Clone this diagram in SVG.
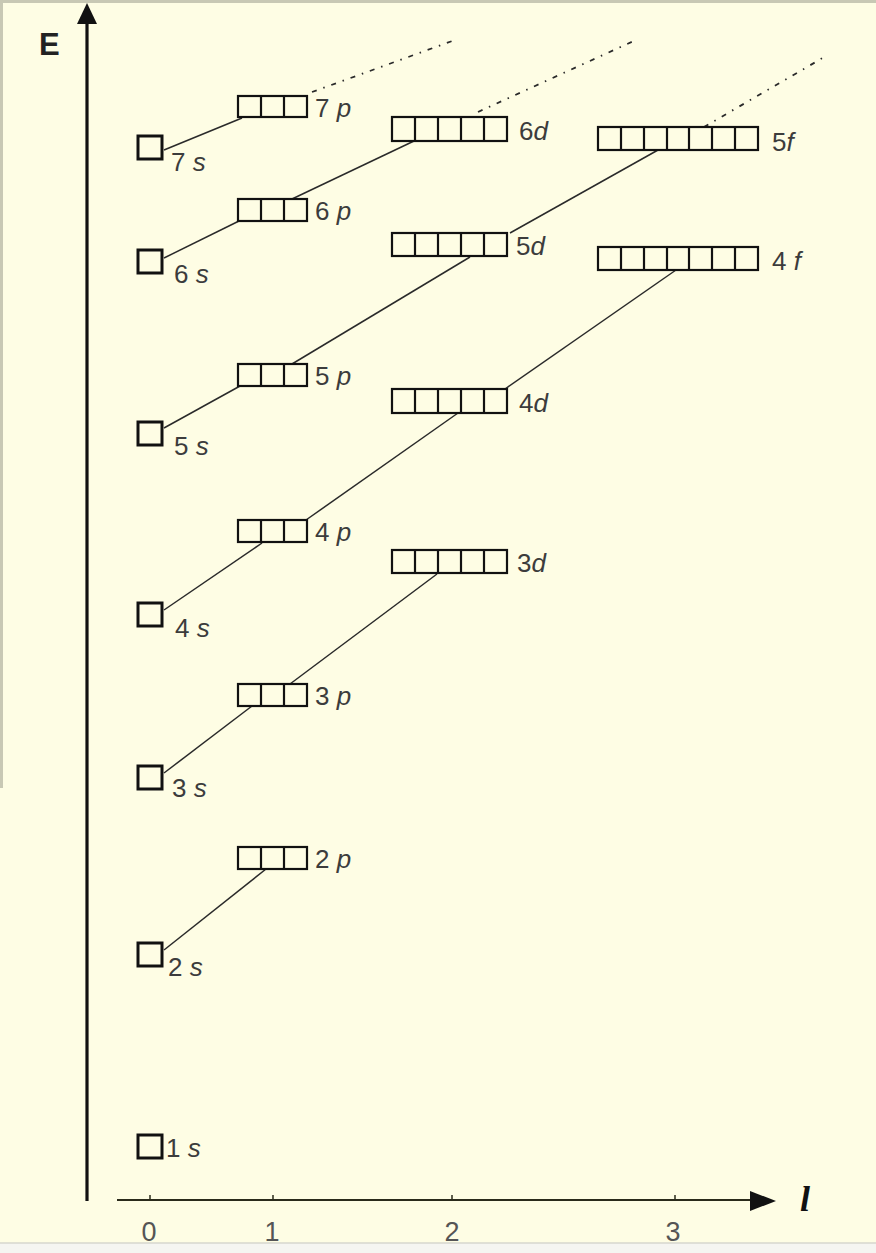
<svg xmlns="http://www.w3.org/2000/svg" width="876" height="1253" viewBox="0 0 876 1253">
<style>
.bg{fill:#FEFDE4}
.box{fill:#FEFDE4;stroke:#111;stroke-width:2.2}
.sbox{fill:#FEFDE4;stroke:#111;stroke-width:3}
.div{stroke:#111;stroke-width:2.2}
.ln{stroke:#2a2a2a;stroke-width:1.5;fill:none}
.dot{stroke:#2a2a2a;stroke-width:1.8;fill:none;stroke-dasharray:5 7 1.5 7}
.lbl{font-family:"Liberation Sans",Arial,sans-serif;font-size:26px;fill:#3c3c3c}
.it{font-style:italic}
.tick{font-family:"Liberation Sans",Arial,sans-serif;font-size:27px;fill:#555;text-anchor:middle}
.axis{stroke:#111;fill:none}
</style>
<rect class="bg" x="0" y="0" width="876" height="1253"/>
<rect x="0" y="0" width="876" height="3" fill="#C8C8B4"/>
<rect x="0" y="0" width="3" height="788" fill="#C8C8B4"/>
<rect x="0" y="1243" width="876" height="10" fill="#F5F5F1"/>
<line x1="0" y1="1243" x2="876" y2="1243" stroke="#D6D6CE" stroke-width="1.5"/>

<g id="axes">
  <line class="axis" x1="87" y1="1201" x2="87" y2="20" stroke-width="3.2"/>
  <polygon points="87,3 77,24 97,24" fill="#111"/>
  <text x="39" y="55" font-family="Liberation Sans,Arial,sans-serif" font-weight="bold" font-size="31" fill="#222">E</text>
  <line x1="117" y1="1200" x2="756" y2="1200" stroke="#2a2a1a" stroke-width="1.8"/>
  <polygon points="776,1201 750,1191 750,1211" fill="#111"/>
  <line x1="150" y1="1195" x2="150" y2="1200" stroke="#2a2a1a" stroke-width="1.5"/>
  <line x1="273" y1="1195" x2="273" y2="1200" stroke="#2a2a1a" stroke-width="1.5"/>
  <line x1="452" y1="1195" x2="452" y2="1200" stroke="#2a2a1a" stroke-width="1.5"/>
  <line x1="675" y1="1195" x2="675" y2="1200" stroke="#2a2a1a" stroke-width="1.5"/>
  <text class="tick" x="149" y="1241">0</text>
  <text class="tick" x="272" y="1241">1</text>
  <text class="tick" x="452" y="1241">2</text>
  <text class="tick" x="673" y="1241">3</text>
  <text x="800" y="1211" font-family="Liberation Serif,serif" font-weight="bold" font-style="italic" font-size="36" fill="#111">l</text>
</g>

<g id="connectors">
  <line class="ln" x1="164" y1="950" x2="266" y2="869"/>
  <line class="ln" x1="164" y1="773" x2="252" y2="706"/>
  <line class="ln" x1="290" y1="684" x2="437" y2="574"/>
  <line class="ln" x1="164" y1="610" x2="262" y2="543"/>
  <line class="ln" x1="306" y1="520" x2="458" y2="413"/>
  <line class="ln" x1="505" y1="389" x2="676" y2="270"/>
  <line class="ln" x1="164" y1="428" x2="240" y2="386"/>
  <line class="ln" x1="292" y1="364" x2="470" y2="257"/>
  <line class="ln" x1="510" y1="233" x2="658" y2="150"/>
  <line class="dot" x1="704" y1="127" x2="826" y2="56"/>
  <line class="ln" x1="164" y1="258" x2="239" y2="221"/>
  <line class="ln" x1="292" y1="199" x2="414" y2="141"/>
  <line class="dot" x1="478" y1="112" x2="636" y2="40"/>
  <line class="ln" x1="164" y1="150" x2="242" y2="118"/>
  <line class="dot" x1="312" y1="92" x2="455" y2="40"/>
</g>

<g id="s1"><rect class="sbox" x="138" y="1135" width="24" height="23"/><text class="lbl" x="166" y="1157">1 <tspan class="it">s</tspan></text></g>
<g id="s2"><rect class="sbox" x="138" y="943" width="24" height="23"/><text class="lbl" x="168" y="976">2 <tspan class="it">s</tspan></text></g>
<g id="s3"><rect class="sbox" x="138" y="766" width="24" height="23"/><text class="lbl" x="172" y="797">3 <tspan class="it">s</tspan></text></g>
<g id="s4"><rect class="sbox" x="138" y="603" width="24" height="23"/><text class="lbl" x="175" y="637">4 <tspan class="it">s</tspan></text></g>
<g id="s5"><rect class="sbox" x="138" y="422" width="24" height="23"/><text class="lbl" x="174" y="455">5 <tspan class="it">s</tspan></text></g>
<g id="s6"><rect class="sbox" x="138" y="250" width="24" height="23"/><text class="lbl" x="174" y="283">6 <tspan class="it">s</tspan></text></g>
<g id="s7"><rect class="sbox" x="138" y="136" width="24" height="23"/><text class="lbl" x="171" y="171">7 <tspan class="it">s</tspan></text></g>

<g id="p2"><rect class="box" x="238" y="847" width="69" height="22"/><line class="div" x1="261" y1="847" x2="261" y2="869"/><line class="div" x1="284" y1="847" x2="284" y2="869"/><text class="lbl" x="315" y="868">2 <tspan class="it">p</tspan></text></g>
<g id="p3"><rect class="box" x="238" y="684" width="69" height="22" stroke-width="3"/><line class="div" x1="261" y1="684" x2="261" y2="706"/><line class="div" x1="284" y1="684" x2="284" y2="706"/><text class="lbl" x="315" y="705">3 <tspan class="it">p</tspan></text></g>
<g id="p4"><rect class="box" x="238" y="520" width="69" height="22" stroke-width="3"/><line class="div" x1="261" y1="520" x2="261" y2="542"/><line class="div" x1="284" y1="520" x2="284" y2="542"/><text class="lbl" x="315" y="541">4 <tspan class="it">p</tspan></text></g>
<g id="p5"><rect class="box" x="238" y="364" width="69" height="22"/><line class="div" x1="261" y1="364" x2="261" y2="386"/><line class="div" x1="284" y1="364" x2="284" y2="386"/><text class="lbl" x="315" y="385">5 <tspan class="it">p</tspan></text></g>
<g id="p6"><rect class="box" x="238" y="199" width="69" height="22"/><line class="div" x1="261" y1="199" x2="261" y2="221"/><line class="div" x1="284" y1="199" x2="284" y2="221"/><text class="lbl" x="315" y="220">6 <tspan class="it">p</tspan></text></g>
<g id="p7"><rect class="box" x="238" y="96" width="69" height="21"/><line class="div" x1="261" y1="96" x2="261" y2="117"/><line class="div" x1="284" y1="96" x2="284" y2="117"/><text class="lbl" x="315" y="117">7 <tspan class="it">p</tspan></text></g>

<g id="d3"><rect class="box" x="392" y="550" width="115" height="23"/><line class="div" x1="415" y1="550" x2="415" y2="573"/><line class="div" x1="438" y1="550" x2="438" y2="573"/><line class="div" x1="461" y1="550" x2="461" y2="573"/><line class="div" x1="484" y1="550" x2="484" y2="573"/><text class="lbl" x="517" y="572">3<tspan class="it">d</tspan></text></g>
<g id="d4"><rect class="box" x="392" y="389" width="115" height="24" stroke-width="3"/><line class="div" x1="415" y1="389" x2="415" y2="413"/><line class="div" x1="438" y1="389" x2="438" y2="413"/><line class="div" x1="461" y1="389" x2="461" y2="413"/><line class="div" x1="484" y1="389" x2="484" y2="413"/><text class="lbl" x="519" y="412">4<tspan class="it">d</tspan></text></g>
<g id="d5"><rect class="box" x="392" y="233" width="115" height="23"/><line class="div" x1="415" y1="233" x2="415" y2="256"/><line class="div" x1="438" y1="233" x2="438" y2="256"/><line class="div" x1="461" y1="233" x2="461" y2="256"/><line class="div" x1="484" y1="233" x2="484" y2="256"/><text class="lbl" x="516" y="255">5<tspan class="it">d</tspan></text></g>
<g id="d6"><rect class="box" x="392" y="117" width="115" height="24" stroke-width="3"/><line class="div" x1="415" y1="117" x2="415" y2="141"/><line class="div" x1="438" y1="117" x2="438" y2="141"/><line class="div" x1="461" y1="117" x2="461" y2="141"/><line class="div" x1="484" y1="117" x2="484" y2="141"/><text class="lbl" x="519" y="140">6<tspan class="it">d</tspan></text></g>

<g id="f4"><rect class="box" x="598" y="247" width="160" height="23"/><line class="div" x1="621" y1="247" x2="621" y2="270"/><line class="div" x1="644" y1="247" x2="644" y2="270"/><line class="div" x1="667" y1="247" x2="667" y2="270"/><line class="div" x1="689" y1="247" x2="689" y2="270"/><line class="div" x1="712" y1="247" x2="712" y2="270"/><line class="div" x1="735" y1="247" x2="735" y2="270"/><text class="lbl" x="772" y="270">4 <tspan class="it">f</tspan></text></g>
<g id="f5"><rect class="box" x="598" y="127" width="160" height="23"/><line class="div" x1="621" y1="127" x2="621" y2="150"/><line class="div" x1="644" y1="127" x2="644" y2="150" stroke-width="3"/><line class="div" x1="667" y1="127" x2="667" y2="150"/><line class="div" x1="689" y1="127" x2="689" y2="150"/><line class="div" x1="712" y1="127" x2="712" y2="150"/><line class="div" x1="735" y1="127" x2="735" y2="150"/><text class="lbl" x="772" y="151">5<tspan class="it">f</tspan></text></g>
</svg>
